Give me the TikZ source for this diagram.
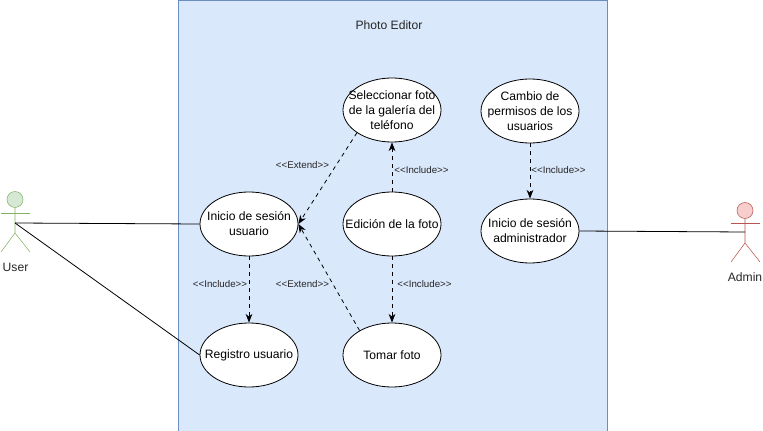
\documentclass[tikz,border=0pt]{standalone}
\usepackage{fontspec}
\setmainfont{Liberation Sans}
\usepackage{tikz}
\usetikzlibrary{shapes}
\usetikzlibrary{arrows.meta}
\definecolor{boxfill}{HTML}{DAE8FC}
\definecolor{boxline}{HTML}{6C8EBF}
\definecolor{userfill}{HTML}{D5E8D4}
\definecolor{userline}{HTML}{82B366}
\definecolor{adminfill}{HTML}{F8CECC}
\definecolor{adminline}{HTML}{B85450}
\tikzset{
	usecase/.style = {ellipse, draw=black, fill=white, align=center, inner sep=-10pt,
		minimum width=73.5pt, minimum height=48pt, line width=0.6pt,
		font=\fontsize{9.1}{11.25}\selectfont},
	stereo/.style = {font=\fontsize{7.3}{8}\selectfont, text=black!85, inner sep=0pt},
	plain_lbl/.style = {font=\fontsize{9.1}{11}\selectfont, text=black!85, inner sep=0pt},
	dep/.style = {-{Stealth[length=6.5pt,width=5pt,inset=2pt]}, dashed, black, line width=0.6pt},
	assoc/.style = {black, line width=0.6pt},
	user_head/.style = {circle, draw=userline, fill=userfill, minimum size=12pt, inner sep=0pt},
	admin_head/.style = {circle, draw=adminline, fill=adminfill, minimum size=12pt, inner sep=0pt}
}
\begin{document}
\begin{tikzpicture}[x=0.75pt,y=-0.75pt]
	\useasboundingbox (0,0) rectangle (763,431);
	% system box
	\node [rectangle, draw=boxline, fill=boxfill, minimum width=321.75pt, minimum height=323pt,
		inner sep=0pt] (editor) at (392.5,215.5) {};
	\node [plain_lbl] (title) at (389,25) {Photo Editor};
	% use cases
	\node [usecase] (galeria) at (392,110) {Seleccionar foto\\de la galería del\\teléfono};
	\node [usecase] (sesion) at (249,224) {Inicio de sesión\\usuario};
	\node [usecase] (edicion) at (392,224) {Edición de la foto};
	\node [usecase] (registro) at (249,355) {Registro usuario};
	\node [usecase] (tomar) at (392,355) {Tomar foto};
	\node [usecase] (cambio) at (530,111) {Cambio de\\permisos de los\\usuarios};
	\node [usecase] (sesionadm) at (530,231) {Inicio de sesión\\administrador};
	% actor user
	\node [user_head] (userh) at (15,199.5) {};
	\coordinate (user) at (15,223);
	\coordinate (userhip) at (15,233);
	\draw [userline] (userh) -- (userhip) -- (1,252);
	\draw [userline] (userhip) -- (30,252);
	\draw [userline] (1,213) -- (30,213);
	\node [plain_lbl] (userlbl) at (15.5,267.5) {User};
	% actor admin
	\node [admin_head] (adminh) at (745,210.5) {};
	\coordinate (admin) at (745,232);
	\coordinate (adminhip) at (745,243);
	\draw [adminline] (adminh) -- (adminhip) -- (731,262);
	\draw [adminline] (adminhip) -- (760,262);
	\draw [adminline] (731,223) -- (760,223);
	\node [plain_lbl] (adminlbl) at (745,277) {Admin};
	% connectors
	\draw [assoc] (user) -- (sesion.west);
	\draw [assoc] (user) -- (registro.west);
	\draw [assoc] (sesionadm.east) -- (admin);
	\draw [dep] (galeria.213) -- (sesion.east);
	\draw [dep] (tomar.143) -- (sesion.east);
	\draw [dep] (edicion) -- (galeria);
	\draw [dep] (edicion) -- (tomar);
	\draw [dep] (sesion) -- (registro);
	\draw [dep] (cambio) -- (sesionadm);
	% stereotypes
	\node [stereo] (ext1) at (302.5,165) {<{}<Extend>{}>};
	\node [stereo] (inc1) at (421.5,170) {<{}<Include>{}>};
	\node [stereo] (inc2) at (558.5,170) {<{}<Include>{}>};
	\node [stereo] (inc3) at (220,284) {<{}<Include>{}>};
	\node [stereo] (ext2) at (302.5,284) {<{}<Extend>{}>};
	\node [stereo] (inc4) at (424.5,284) {<{}<Include>{}>};
\end{tikzpicture}
\end{document}
